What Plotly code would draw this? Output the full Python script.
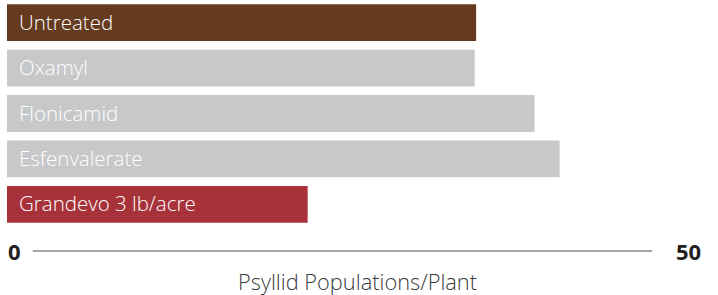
import plotly.graph_objects as go

categories = ["Untreated", "Oxamyl", "Flonicamid", "Esfenvalerate", "Grandevo 3 lb/acre"]
values = [33.7, 33.6, 37.9, 39.7, 21.6]
colors = ["#643B1F", "#C7C8CA", "#C7C8CA", "#C7C8CA", "#A8323A"]
tick_labels = ["0", "50"]
axis_title = "Psyllid Populations/Plant"

LABEL_FONT = "Open Sans"
NUM_FONT = "Open Sans"

fig = go.Figure()
fig.add_trace(go.Bar(
    x=values, y=categories, orientation="h",
    marker=dict(color=colors, line=dict(width=0)),
    hoverinfo="skip",
))

annotations = []
for c in categories:
    annotations.append(dict(
        x=0, y=c, xref="x", yref="y", text=c, showarrow=False,
        xanchor="left", yanchor="middle", xshift=10, yshift=1,
        font=dict(family=LABEL_FONT, size=20.5, color="white", weight=300),
    ))
annotations.append(dict(
    x=0, y=0, xref="x", yref="paper", text=tick_labels[0], showarrow=False,
    xanchor="left", yanchor="middle", yshift=-24, xshift=-1,
    font=dict(family=NUM_FONT, size=22, color="#231F20", weight=700),
))
annotations.append(dict(
    x=50, y=0, xref="x", yref="paper", text=tick_labels[1], showarrow=False,
    xanchor="right", yanchor="middle", yshift=-24, xshift=0,
    font=dict(family=NUM_FONT, size=22, color="#231F20", weight=700),
))
annotations.append(dict(
    x=0.503, y=0, xref="paper", yref="paper", text=axis_title, showarrow=False,
    xanchor="center", yanchor="middle", yshift=-54,
    font=dict(family=LABEL_FONT, size=21.8, color="#3A3A3A", weight=300),
))

fig.update_layout(
    width=718, height=295, autosize=False,
    margin=dict(l=7, r=15, t=0, b=68),
    paper_bgcolor="white", plot_bgcolor="white",
    bargap=0.19, showlegend=False,
    xaxis=dict(range=[0, 50], visible=False, fixedrange=True),
    yaxis=dict(autorange="reversed", visible=False, fixedrange=True),
    annotations=annotations,
    shapes=[dict(type="line", xref="paper", yref="paper",
                 x0=0.037, x1=0.927, y0=-0.106, y1=-0.106,
                 line=dict(color="#8A8A8A", width=1.5))],
)

fig.write_html("out.html", config={"displayModeBar": False},
               post_script="document.body.style.margin='0';document.body.style.overflow='hidden';")
